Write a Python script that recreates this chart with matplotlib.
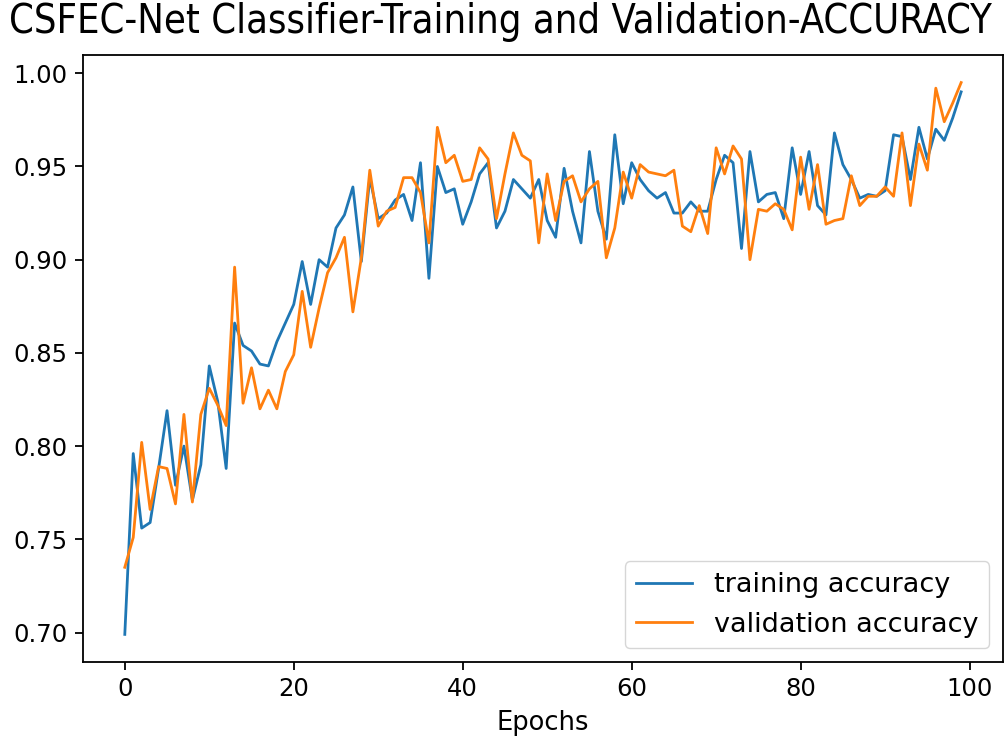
import matplotlib
matplotlib.use("Agg")
import matplotlib.pyplot as plt
import numpy as np

# accuracy per epoch
train_acc = [0.699, 0.796, 0.756, 0.759, 0.788, 0.819, 0.779, 0.800, 0.771, 0.790,
             0.843, 0.824, 0.788, 0.866, 0.854, 0.851, 0.844, 0.843, 0.856, 0.866,
             0.876, 0.899, 0.876, 0.900, 0.896, 0.917, 0.924, 0.939, 0.899, 0.944,
             0.922, 0.925, 0.932, 0.935, 0.921, 0.952, 0.890, 0.950, 0.936, 0.938,
             0.919, 0.931, 0.946, 0.952, 0.917, 0.926, 0.943, 0.938, 0.933, 0.943,
             0.921, 0.912, 0.949, 0.926, 0.909, 0.958, 0.926, 0.911, 0.967, 0.930,
             0.952, 0.943, 0.937, 0.933, 0.936, 0.925, 0.925, 0.931, 0.926, 0.926,
             0.943, 0.956, 0.952, 0.906, 0.958, 0.931, 0.935, 0.936, 0.922, 0.960,
             0.935, 0.958, 0.929, 0.924, 0.968, 0.951, 0.943, 0.933, 0.935, 0.934,
             0.937, 0.967, 0.966, 0.943, 0.971, 0.954, 0.970, 0.964, 0.976, 0.990]

val_acc = [0.735, 0.751, 0.802, 0.766, 0.789, 0.788, 0.769, 0.817, 0.770, 0.817,
           0.831, 0.822, 0.811, 0.896, 0.823, 0.842, 0.820, 0.830, 0.820, 0.840,
           0.849, 0.883, 0.853, 0.874, 0.893, 0.901, 0.912, 0.872, 0.901, 0.948,
           0.918, 0.926, 0.928, 0.944, 0.944, 0.936, 0.909, 0.971, 0.952, 0.956,
           0.942, 0.943, 0.960, 0.954, 0.922, 0.946, 0.968, 0.956, 0.953, 0.909,
           0.946, 0.921, 0.942, 0.945, 0.931, 0.938, 0.942, 0.901, 0.917, 0.947,
           0.933, 0.951, 0.947, 0.946, 0.945, 0.948, 0.918, 0.915, 0.929, 0.914,
           0.960, 0.946, 0.961, 0.954, 0.900, 0.927, 0.926, 0.930, 0.927, 0.916,
           0.955, 0.927, 0.951, 0.919, 0.921, 0.922, 0.945, 0.929, 0.934, 0.934,
           0.939, 0.934, 0.968, 0.929, 0.962, 0.948, 0.992, 0.974, 0.984, 0.995]

title = "CSFEC-Net Classifier-Training and Validation-ACCURACY"

fig = plt.figure(figsize=(10.07, 7.48), dpi=100)
ax = fig.add_axes([0.0824, 0.115, 0.9136, 0.8115])

ax.plot(train_acc, color="#1f77b4", linewidth=2.0, label="training accuracy")
ax.plot(val_acc, color="#ff7f0e", linewidth=2.0, label="validation accuracy")

ax.set_yticks(np.arange(0.70, 1.001, 0.05))
ax.set_xlabel("Epochs", fontsize=18.5, labelpad=6)
ax.tick_params(labelsize=17.5, length=6, width=1.3, pad=5)
for sp in ax.spines.values():
    sp.set_linewidth(1.3)

ax.legend(loc="lower right", fontsize=19.5, borderpad=0.4, handlelength=2.1)

fig.text(0.497, 1 - 33 / 748, title, ha="center", va="baseline",
         fontsize=28.5, fontstretch="condensed")

fig.savefig("out.png", dpi=100)
